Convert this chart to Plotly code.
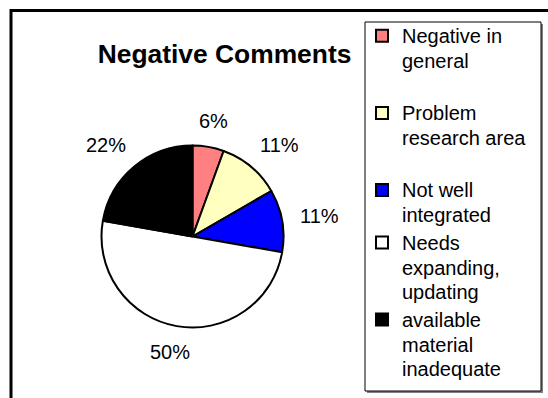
import math
import plotly.graph_objects as go

categories = ["Negative in<br>general", "Problem<br>research area", "Not well<br>integrated",
              "Needs<br>expanding,<br>updating", "available<br>material<br>inadequate"]
counts = [1, 2, 2, 9, 4]
colors = ["#FF8080", "#FFFFC0", "#0000FF", "#FFFFFF", "#000000"]
title_text = "Negative Comments"

W, H = 548, 398
cx, cy, r = 192.5, 236.5, 91
FONT = "Liberation Sans, Arial"
LBL_FS = 20

# an extra blank line on some entries mimics the original legend's even item spacing
legend_pad = [True, True, False, False, False]
legend_names = ["<span style='font-size:20px'>" + c + ("<br> " if p else "") + "</span>"
                for c, p in zip(categories, legend_pad)]

fig = go.Figure(go.Pie(
    labels=legend_names,
    values=counts,
    sort=False,
    direction="clockwise",
    rotation=0,
    marker=dict(colors=colors, line=dict(color="#000000", width=2)),
    textinfo="none",
    hoverinfo="skip",
    domain=dict(x=[(cx - r) / W, (cx + r) / W], y=[(H - cy - r) / H, (H - cy + r) / H]),
))

# percentage labels placed outside each slice, derived from the data
total = sum(counts)
annotations = []
cum = 0
for v in counts:
    mid = cum + v / 2
    cum += v
    ang = math.radians(90 - mid / total * 360)
    c, s = math.cos(ang), math.sin(ang)
    m = max(abs(c), abs(s))
    txt = f"{round(100 * v / total)}%"
    ndig = len(txt) - 1
    hw = LBL_FS * (0.556 * ndig + 0.889) / 2
    hh = 8
    rr = r + 18
    px = rr * c + hw * c / m
    py = rr * s + hh * s / m
    annotations.append(dict(
        x=(cx + px) / W, y=(H - cy + py) / H,
        xref="paper", yref="paper", text=txt, showarrow=False,
        xanchor="center", yanchor="middle",
        font=dict(family=FONT, size=LBL_FS, color="#000000")))

lx0, lx1, ly0, ly1 = 365, 541, 22, 391
shapes = [
    # outer chart-area border
    dict(type="rect", xref="paper", yref="paper",
         x0=11 / W, x1=1.05, y0=-0.05, y1=1 - 10.5 / H,
         line=dict(color="#000000", width=3), fillcolor="rgba(0,0,0,0)", layer="below"),
    # legend frame shadow
    dict(type="rect", xref="paper", yref="paper",
         x0=(lx0 + 2) / W, x1=(lx1 + 2) / W, y0=1 - (ly1 + 2) / H, y1=1 - (ly0 + 2) / H,
         line=dict(width=0), fillcolor="#808080", layer="below"),
    # legend frame
    dict(type="rect", xref="paper", yref="paper",
         x0=lx0 / W, x1=lx1 / W, y0=1 - ly1 / H, y1=1 - ly0 / H,
         line=dict(color="#000000", width=1), fillcolor="#FFFFFF", layer="below"),
]

fig.update_layout(
    width=W, height=H,
    margin=dict(l=0, r=0, t=0, b=0),
    paper_bgcolor="#FFFFFF",
    plot_bgcolor="#FFFFFF",
    font=dict(family=FONT, color="#000000"),
    title=dict(text="<b>" + title_text + "</b>", x=224.5 / W, xanchor="center",
               y=1 - 54 / H, yanchor="middle",
               font=dict(family=FONT, size=26.4, color="#000000")),
    showlegend=True,
    legend=dict(x=362 / W, xanchor="left", y=1 - 17 / H, yanchor="top",
                bgcolor="rgba(0,0,0,0)", borderwidth=0,
                font=dict(family=FONT, size=19, color="#000000"),
                valign="top", traceorder="normal"),
    shapes=shapes,
    annotations=annotations,
)

fig.write_html("out.html")
